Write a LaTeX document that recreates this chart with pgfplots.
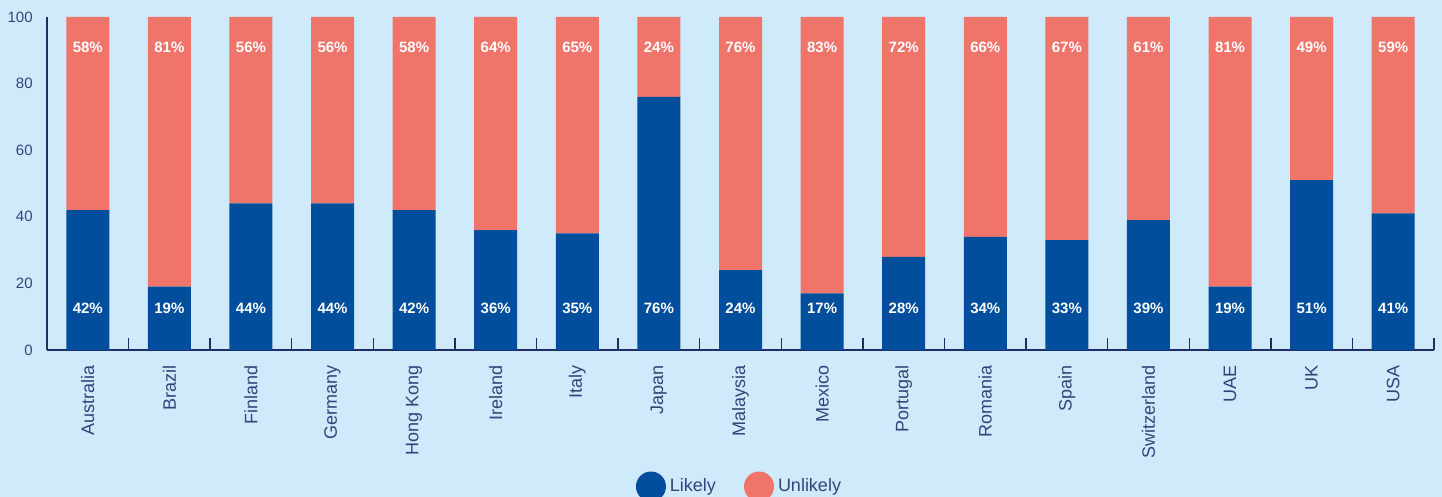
\documentclass[border=0pt]{standalone}
\usepackage{fontspec}
\setmainfont{Liberation Sans}
\usepackage{pgfplots}
\pgfplotsset{compat=1.18}
\usepackage{pgfplotstable}

\definecolor{bg}{HTML}{CEEAFB}
\definecolor{likely}{HTML}{004E9C}
\definecolor{unlikely}{HTML}{EF756B}
\definecolor{ink}{HTML}{33447A}
\definecolor{axisc}{HTML}{1F2F66}

\pgfplotstableread{
x likely unlikely
0  42 58
1  19 81
2  44 56
3  44 56
4  42 58
5  36 64
6  35 65
7  76 24
8  24 76
9  17 83
10 28 72
11 34 66
12 33 67
13 39 61
14 19 81
15 51 49
16 41 59
}\data

\pgfplotsset{
  base/.style={
    scale only axis,
    width=693.5pt, height=166.5pt,
    at={(0,0)}, anchor=south west,
    xmin=-0.5, xmax=16.5,
    ymin=0, ymax=100,
  },
}

\begin{document}
\begin{tikzpicture}
\path[use as bounding box, fill=bg] (-23.5pt,-73.5pt) rectangle (697.5pt,175pt);
\begin{axis}[
    base,
    ybar stacked,
    bar width=21.5pt,
    axis x line*=bottom,
    axis y line*=left,
    axis line style={axisc, line width=0.8pt, -},
    xtick={0,...,16},
    xticklabels={Australia,Brazil,Finland,Germany,Hong Kong,Ireland,Italy,Japan,Malaysia,Mexico,Portugal,Romania,Spain,Switzerland,UAE,UK,USA},
    minor xtick={0.5,1.5,...,16.5},
    ytick={0,20,...,100},
    major tick length=0pt,
    minor tick length=6pt,
    tick align=inside,
    minor tick style={axisc, line width=0.7pt},
    xticklabel style={rotate=90, anchor=east, inner sep=0pt, font=\fontsize{9}{10}\selectfont, text=ink},
    xticklabel shift=7.5pt,
    yticklabel style={anchor=east, inner sep=0pt, font=\fontsize{7.5}{9}\selectfont, text=ink},
    yticklabel shift=7pt,
    /pgf/number format/assume math mode=true,
    legend columns=2,
    legend style={at={(0.5,-0.41)}, anchor=center, draw=none, fill=none,
      font=\fontsize{9}{10}\selectfont, text=ink,
      /tikz/every even column/.append style={column sep=12pt}},
]
\addplot[fill=likely, draw=none,
  legend image code/.code={\fill[likely] (0.22cm,0pt) circle (7.5pt);}]
  table[x=x, y=likely] {\data};
\addplot[fill=unlikely, draw=none,
  legend image code/.code={\fill[unlikely] (0.22cm,0pt) circle (7.5pt);}]
  table[x=x, y=unlikely] {\data};
\legend{Likely, Unlikely}
\end{axis}
\begin{axis}[
    base,
    hide axis,
    nodes near coords={\pgfplotspointmeta\%},
    point meta=explicit symbolic,
    every node near coord/.append style={anchor=center, text=white,
      font=\bfseries\fontsize{7.5}{9}\selectfont},
]
\addplot[draw=none] table[x=x, y expr=12.6, meta=likely] {\data};
\addplot[draw=none] table[x=x, y expr=91, meta=unlikely] {\data};
\end{axis}
\end{tikzpicture}
\end{document}
